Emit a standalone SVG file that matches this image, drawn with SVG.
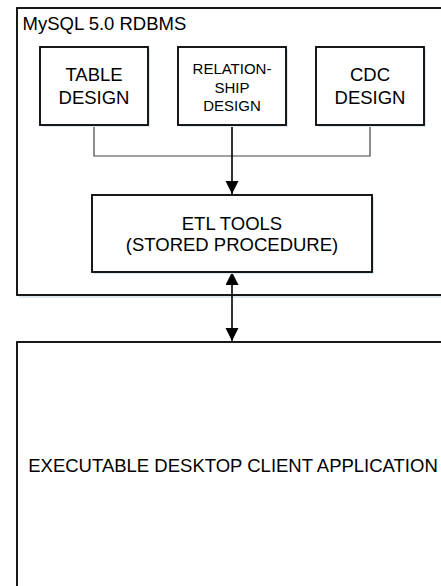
<svg xmlns="http://www.w3.org/2000/svg" width="441" height="586" viewBox="0 0 441 586">
<style>
.box{fill:#fff;stroke:#000;stroke-width:1.8}
.shadow{fill:#dfe7f1}
.t{font-family:"Liberation Sans",Arial,sans-serif;font-size:18.5px;fill:#000}
.ts{font-family:"Liberation Sans",Arial,sans-serif;font-size:15px;fill:#000}
.thin{fill:none;stroke:#444;stroke-width:1.2}
.main{fill:none;stroke:#000;stroke-width:1.6}
</style>
<defs>
<marker id="ah" markerUnits="userSpaceOnUse" markerWidth="14" markerHeight="14" refX="13" refY="6.5" orient="auto-start-reverse">
<path d="M0,0 L13,6.5 L0,13 Z" fill="#000"/>
</marker>
</defs>
<rect width="441" height="586" fill="#fff"/>
<g id="mysql">
<rect class="shadow" x="19" y="10" width="432" height="288"/>
<rect class="box" x="17" y="8" width="432" height="287"/>
<text class="t" x="22.5" y="30">MySQL 5.0 RDBMS</text>
</g>
<g id="client">
<rect class="box" x="17" y="342" width="432" height="260"/>
<text class="t" x="233" y="472" text-anchor="middle">EXECUTABLE DESKTOP CLIENT APPLICATION</text>
</g>
<g id="connectors">
<polyline class="thin" points="94,125 94,156 370,156 370,125"/>
<line class="main" x1="232" y1="125" x2="232" y2="194" marker-end="url(#ah)"/>
<line class="main" x1="232" y1="272" x2="232" y2="341" marker-start="url(#ah)" marker-end="url(#ah)"/>
</g>
<g id="table">
<rect class="shadow" x="42" y="49" width="108" height="78"/>
<rect class="box" x="40" y="47" width="108" height="78"/>
<text class="t" x="94" y="81" text-anchor="middle">TABLE</text>
<text class="t" x="94" y="104" text-anchor="middle">DESIGN</text>
</g>
<g id="relationship">
<rect class="shadow" x="180" y="49" width="108" height="78"/>
<rect class="box" x="178" y="47" width="108" height="78"/>
<text class="ts" x="232" y="74" text-anchor="middle">RELATION-</text>
<text class="ts" x="232" y="92.5" text-anchor="middle">SHIP</text>
<text class="ts" x="232" y="111" text-anchor="middle">DESIGN</text>
</g>
<g id="cdc">
<rect class="shadow" x="318" y="49" width="108" height="78"/>
<rect class="box" x="316" y="47" width="108" height="78"/>
<text class="t" x="370" y="81" text-anchor="middle">CDC</text>
<text class="t" x="370" y="104" text-anchor="middle">DESIGN</text>
</g>
<g id="etl">
<rect class="shadow" x="94" y="197" width="280" height="77"/>
<rect class="box" x="92" y="195" width="280" height="77"/>
<text class="t" x="232" y="230" text-anchor="middle">ETL TOOLS</text>
<text class="t" x="232" y="251" text-anchor="middle">(STORED PROCEDURE)</text>
</g>
</svg>
